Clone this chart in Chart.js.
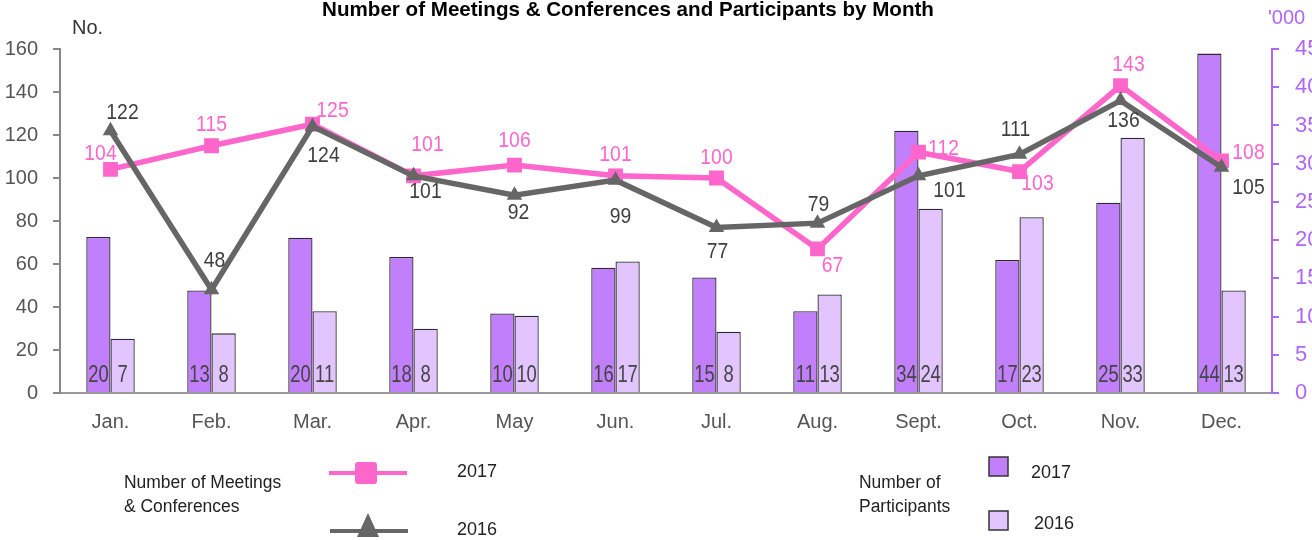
<!DOCTYPE html>
<html>
<head>
<meta charset="utf-8">
<script src="https://cdn.jsdelivr.net/npm/chart.js@4.4.1/dist/chart.umd.min.js"></script>
<style>
  html, body { margin: 0; padding: 0; background: #fff; overflow: hidden; }
  #wrap { width: 1312px; height: 540px; position: relative; }
</style>
</head>
<body>
<div id="wrap"><canvas id="chart" width="1312" height="540"></canvas></div>
<script>
const MONTHS = ['Jan.', 'Feb.', 'Mar.', 'Apr.', 'May', 'Jun.', 'Jul.', 'Aug.', 'Sept.', 'Oct.', 'Nov.', 'Dec.'];
// meetings & conferences (left axis, No.)
const MEET_2017 = [104, 115, 125, 101, 106, 101, 100, 67, 112, 103, 143, 108];
const MEET_2016 = [122, 48, 124, 101, 92, 99, 77, 79, 101, 111, 136, 105];
// participants (right axis, '000)
const PART_2017 = [20.4, 13.4, 20.3, 17.8, 10.4, 16.4, 15.1, 10.7, 34.3, 17.4, 24.9, 44.4];
const PART_2016 = [7.1, 7.8, 10.7, 8.4, 10.1, 17.2, 8.0, 12.9, 24.1, 23.0, 33.4, 13.4];
const LEFT_TICKS = [0, 20, 40, 60, 80, 100, 120, 140, 160];
const RIGHT_TICKS = [0, 5, 10, 15, 20, 25, 30, 35, 40, 45];

const TITLE = 'Number of Meetings & Conferences and Participants by Month';
const LEFT_UNIT = 'No.';
const RIGHT_UNIT = "'000";
const LEGEND_LINES = ['Number of Meetings', '& Conferences'];
const LEGEND_BARS = ['Number of', 'Participants'];

const FONT = "'Liberation Sans', Arial, sans-serif";
const PINK = '#FF66CC';
const GREY = '#666666';
const PURPLE = '#C17FFC';
const LILAC = '#E2C5FE';
const AXIS_PURPLE = '#B066F8';

// label offsets from the point, [dx, dy]
const OFF_2017 = [[-10, -15], [0, -21], [20, -13], [14, -31], [0, -24], [0, -21], [0, -20], [15, 17], [25, -3], [18, 12], [8, -21], [27, -8]];
const OFF_2016 = [[12, -18], [3, -29], [11, 30], [12, 16], [4, 18], [5, 37], [1, 24], [1, -18], [31, 15], [-4, -24], [3, 20], [27, 21]];

Chart.defaults.font.family = FONT;

// draw text squeezed horizontally (the source uses a narrow face)
function narrowText(ctx, text, x, y, sx) {
  ctx.save();
  ctx.translate(x, y);
  ctx.scale(sx, 1);
  ctx.fillText(text, 0, 0);
  ctx.restore();
}

const labelPlugin = {
  id: 'labels',
  afterDatasetsDraw(chart) {
    const ctx = chart.ctx;
    ctx.save();
    ctx.textAlign = 'center';
    ctx.textBaseline = 'middle';
    chart.data.datasets.forEach((ds, i) => {
      const meta = chart.getDatasetMeta(i);
      meta.data.forEach((el, j) => {
        if (ds.type === 'line') {
          const off = ds.offsets[j];
          ctx.font = '22px ' + FONT;
          ctx.fillStyle = ds.labelColor;
          narrowText(ctx, ds.data[j], el.x + off[0], el.y + off[1], 0.88);
        } else {
          ctx.font = '23px ' + FONT;
          ctx.fillStyle = '#444';
          narrowText(ctx, Math.round(ds.data[j]), el.x, chart.chartArea.bottom - 17, 0.8);
        }
      });
    });
    ctx.restore();
  }
};

const decorPlugin = {
  id: 'decor',
  afterDraw(chart) {
    const ctx = chart.ctx;
    ctx.save();
    ctx.textBaseline = 'middle';
    // title
    ctx.font = 'bold 21px ' + FONT;
    ctx.fillStyle = '#000';
    ctx.textAlign = 'center';
    narrowText(ctx, TITLE, 628, 10, 0.98);
    // units
    ctx.font = '20px ' + FONT;
    ctx.textAlign = 'left';
    ctx.fillStyle = '#333';
    ctx.fillText(LEFT_UNIT, 72, 28);
    ctx.fillStyle = AXIS_PURPLE;
    ctx.fillText(RIGHT_UNIT, 1268, 18);

    // legend - lines
    ctx.font = '18px ' + FONT;
    ctx.fillStyle = '#222';
    narrowText(ctx, LEGEND_LINES[0], 124, 483, 0.97);
    narrowText(ctx, LEGEND_LINES[1], 124, 507, 0.97);
    const pink = chart.data.datasets[1], grey = chart.data.datasets[0];
    ctx.lineWidth = 4;
    ctx.strokeStyle = pink.borderColor;
    ctx.beginPath(); ctx.moveTo(329, 473); ctx.lineTo(407, 473); ctx.stroke();
    ctx.fillStyle = pink.borderColor;
    ctx.beginPath(); ctx.roundRect(355, 462, 22, 22, 3); ctx.fill();
    ctx.strokeStyle = grey.borderColor;
    ctx.beginPath(); ctx.moveTo(330, 531); ctx.lineTo(408, 531); ctx.stroke();
    ctx.fillStyle = grey.borderColor;
    ctx.beginPath(); ctx.moveTo(368, 513); ctx.lineTo(379, 537); ctx.lineTo(357, 537); ctx.closePath(); ctx.fill();
    ctx.fillStyle = '#222';
    ctx.fillText(pink.label, 457, 472);
    ctx.fillText(grey.label, 457, 530);

    // legend - bars
    narrowText(ctx, LEGEND_BARS[0], 859, 483, 0.97);
    narrowText(ctx, LEGEND_BARS[1], 859, 507, 0.97);
    const b17 = chart.data.datasets[2], b16 = chart.data.datasets[3];
    ctx.lineWidth = 1.5;
    ctx.strokeStyle = '#333';
    ctx.fillStyle = b17.backgroundColor;
    ctx.fillRect(989, 457, 19, 19); ctx.strokeRect(989, 457, 19, 19);
    ctx.fillStyle = b16.backgroundColor;
    ctx.fillRect(989, 511, 19, 19); ctx.strokeRect(989, 511, 19, 19);
    ctx.fillStyle = '#222';
    ctx.fillText(b17.label, 1031, 473);
    ctx.fillText(b16.label, 1034, 524);
    ctx.restore();
  }
};

new Chart(document.getElementById('chart').getContext('2d'), {
  data: {
    labels: MONTHS,
    datasets: [
      { type: 'line', label: '2016', data: MEET_2016, yAxisID: 'y', borderColor: GREY, backgroundColor: GREY,
        borderWidth: 5.5, pointStyle: 'triangle', pointRadius: 9, pointBorderWidth: 0, order: 1,
        offsets: OFF_2016, labelColor: '#404040' },
      { type: 'line', label: '2017', data: MEET_2017, yAxisID: 'y', borderColor: PINK, backgroundColor: PINK,
        borderWidth: 5.5, pointStyle: 'rect', pointRadius: 10.5, pointBorderWidth: 0, order: 2,
        offsets: OFF_2017, labelColor: PINK },
      { type: 'bar', label: '2017', data: PART_2017, yAxisID: 'y2', backgroundColor: PURPLE,
        borderColor: '#2e2833', borderWidth: 1.3, categoryPercentage: 0.48, barPercentage: 1, order: 3 },
      { type: 'bar', label: '2016', data: PART_2016, yAxisID: 'y2', backgroundColor: LILAC,
        borderColor: '#2e2833', borderWidth: 1.3, categoryPercentage: 0.48, barPercentage: 1, order: 3 }
    ]
  },
  options: {
    responsive: false,
    animation: false,
    layout: { padding: { top: 49, left: 0, right: 0, bottom: 0 } },
    plugins: { legend: { display: false }, tooltip: { enabled: false } },
    scales: {
      x: {
        grid: { display: false, drawTicks: false },
        border: { display: true, color: '#999', width: 2 },
        ticks: { color: '#555', font: { size: 20 }, padding: 17 },
        afterFit: s => { s.height = 147; }
      },
      y: {
        position: 'left',
        min: 0, max: 160,
        afterBuildTicks: s => { s.ticks = LEFT_TICKS.map(v => ({ value: v })); },
        grid: { drawOnChartArea: false, tickLength: 7, color: '#888', lineWidth: 2 },
        border: { display: true, color: '#888', width: 2 },
        ticks: { color: '#555', font: { size: 20 }, padding: 15 },
        afterFit: s => { s.width = 60; }
      },
      y2: {
        position: 'right',
        min: 0, max: 45,
        afterBuildTicks: s => { s.ticks = RIGHT_TICKS.map(v => ({ value: v })); },
        grid: { drawOnChartArea: false, tickLength: 7, color: AXIS_PURPLE, lineWidth: 2 },
        border: { display: true, color: AXIS_PURPLE, width: 2 },
        ticks: { color: AXIS_PURPLE, font: { size: 22 }, padding: 16 },
        afterFit: s => { s.width = 40; }
      }
    }
  },
  plugins: [labelPlugin, decorPlugin]
});
</script>
</body>
</html>
